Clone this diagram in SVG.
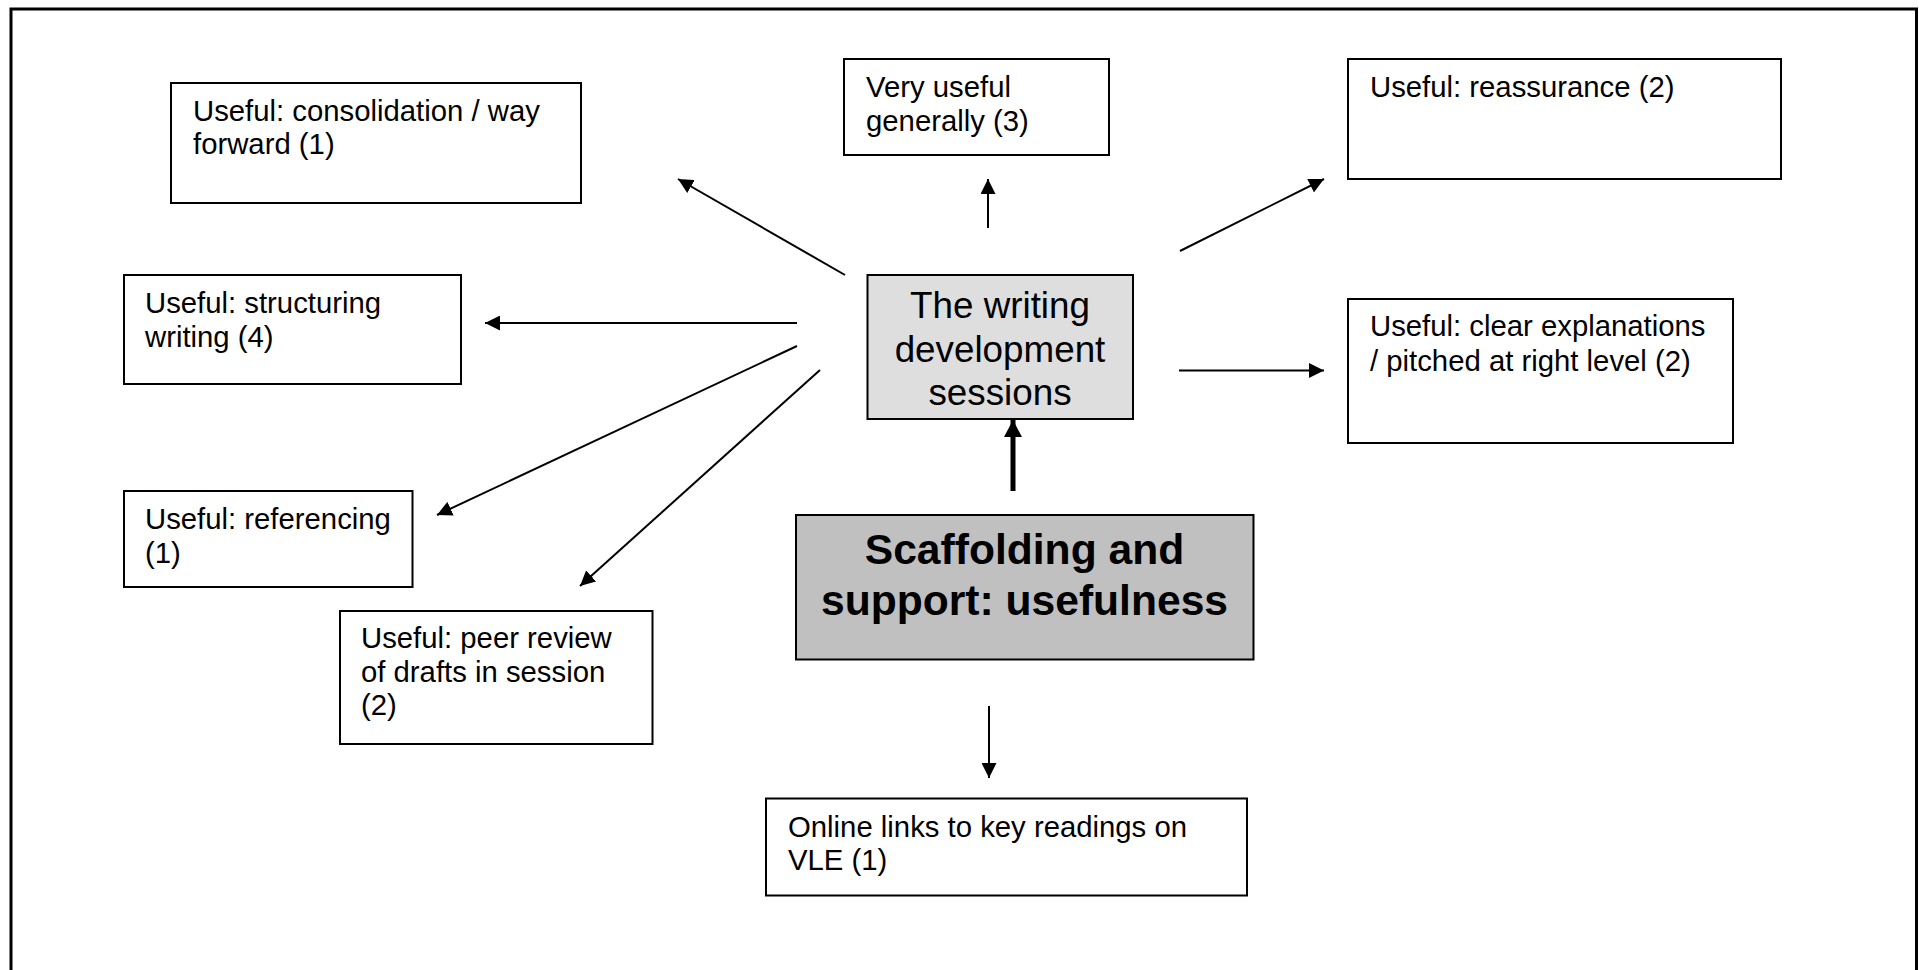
<svg xmlns="http://www.w3.org/2000/svg" width="1919" height="970" viewBox="0 0 1919 970">
<style>
.box{fill:#ffffff;stroke:#000000;stroke-width:2}
.t{font-family:"Liberation Sans",Arial,sans-serif;font-size:29.3px;fill:#000000}
.tw{font-family:"Liberation Sans",Arial,sans-serif;font-size:36.8px;fill:#000000;text-anchor:middle}
.tb{font-family:"Liberation Sans",Arial,sans-serif;font-size:42.6px;font-weight:bold;fill:#000000;text-anchor:middle}
.c{stroke:#000000;stroke-width:2;fill:none;marker-end:url(#ah)}
.ck{stroke:#000000;stroke-width:5;fill:none;marker-end:url(#ahk)}
</style>
<defs>
<marker id="ah" markerUnits="userSpaceOnUse" markerWidth="16" markerHeight="15" refX="15" refY="7.5" orient="auto">
<path d="M0,0 L15,7.5 L0,15 z" fill="#000000"/>
</marker>
<marker id="ahk" markerUnits="userSpaceOnUse" markerWidth="18" markerHeight="18" refX="17" refY="9" orient="auto">
<path d="M0,0 L17,9 L0,18 z" fill="#000000"/>
</marker>
</defs>
<rect width="1919" height="970" fill="#ffffff"/>
<path d="M11,975 L11,9 L1916.5,9 L1916.5,975" fill="none" stroke="#000000" stroke-width="3"/>

<g id="n-consolidation">
<rect class="box" x="171" y="83" width="410" height="120"/>
<text class="t" x="193" y="121">Useful: consolidation / way</text>
<text class="t" x="193" y="154">forward (1)</text>
</g>
<g id="n-very-useful">
<rect class="box" x="844" y="59" width="265" height="96"/>
<text class="t" x="866" y="97">Very useful</text>
<text class="t" x="866" y="131">generally (3)</text>
</g>
<g id="n-reassurance">
<rect class="box" x="1348" y="59" width="433" height="120"/>
<text class="t" x="1370" y="97">Useful: reassurance (2)</text>
</g>
<g id="n-structuring">
<rect class="box" x="124" y="275" width="337" height="109"/>
<text class="t" x="145" y="313">Useful: structuring</text>
<text class="t" x="145" y="347">writing (4)</text>
</g>
<g id="n-writing">
<rect x="867.5" y="275" width="265.5" height="144" fill="#dedede" stroke="#000000" stroke-width="2"/>
<text class="tw" x="1000" y="318">The writing</text>
<text class="tw" x="1000" y="362">development</text>
<text class="tw" x="1000" y="405">sessions</text>
</g>
<g id="n-clear">
<rect class="box" x="1348" y="299" width="385" height="144"/>
<text class="t" x="1370" y="336">Useful: clear explanations</text>
<text class="t" x="1370" y="371">/ pitched at right level (2)</text>
</g>
<g id="n-referencing">
<rect class="box" x="124" y="491" width="288.5" height="96"/>
<text class="t" x="145" y="529">Useful: referencing</text>
<text class="t" x="145" y="563">(1)</text>
</g>
<g id="n-peer">
<rect class="box" x="340" y="611" width="312.5" height="133"/>
<text class="t" x="361" y="648">Useful: peer review</text>
<text class="t" x="361" y="682">of drafts in session</text>
<text class="t" x="361" y="715">(2)</text>
</g>
<g id="n-scaffolding">
<rect x="796" y="515" width="457.5" height="144.5" fill="#c0c0c0" stroke="#000000" stroke-width="2"/>
<text class="tb" x="1024.5" y="564">Scaffolding and</text>
<text class="tb" x="1024.5" y="615">support: usefulness</text>
</g>
<g id="n-online">
<rect class="box" x="766" y="798.5" width="481" height="97"/>
<text class="t" x="788" y="837">Online links to key readings on</text>
<text class="t" x="788" y="870">VLE (1)</text>
</g>

<g id="connectors">
<line class="c" x1="845" y1="275" x2="678" y2="179"/>
<line class="c" x1="988" y1="228" x2="988" y2="179"/>
<line class="c" x1="1180" y1="251" x2="1324" y2="179"/>
<line class="c" x1="797" y1="323" x2="485" y2="323"/>
<line class="c" x1="1179" y1="370.5" x2="1324" y2="370.5"/>
<line class="c" x1="797" y1="346" x2="437" y2="515"/>
<line class="c" x1="820" y1="370" x2="580" y2="586"/>
<line class="ck" x1="1013" y1="491" x2="1013" y2="420"/>
<line class="c" x1="989" y1="706" x2="989" y2="778"/>
</g>
</svg>
